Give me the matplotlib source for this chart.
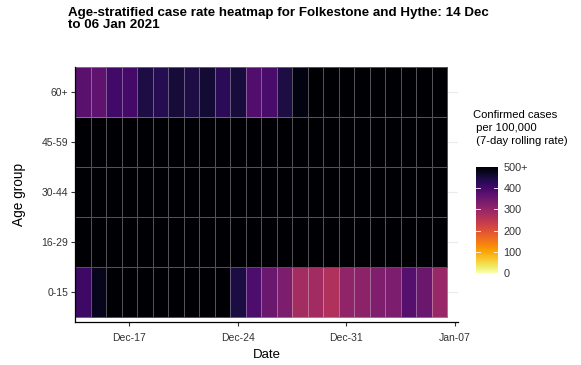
import numpy as np
import matplotlib
matplotlib.use('Agg')
import matplotlib.pyplot as plt
import matplotlib.dates as mdates
import pandas as pd

plt.rcParams['font.family'] = ['Liberation Sans', 'DejaVu Sans']

# ---------------- data ----------------
age_groups = ['0-15', '16-29', '30-44', '45-59', '60+']
start_date = '2020-12-14'
n_days = 24
dates = pd.date_range(start_date, periods=n_days, freq='D')

rate_0_15 = [405, 475, 520, 540, 560, 580, 600, 590, 570, 530, 445, 385,
             350, 330, 280, 282, 265, 305, 310, 325, 330, 375, 350, 295]
rate_16_29 = [560, 580, 610, 640, 660, 690, 700, 710, 690, 650, 620, 600,
              590, 600, 610, 620, 640, 650, 660, 640, 630, 610, 600, 590]
rate_30_44 = [600, 620, 650, 680, 700, 720, 740, 750, 730, 700, 670, 650,
              640, 650, 660, 670, 690, 700, 710, 690, 680, 660, 650, 640]
rate_45_59 = [580, 600, 630, 660, 680, 700, 720, 730, 710, 680, 650, 630,
              620, 630, 640, 650, 670, 680, 690, 670, 660, 640, 630, 620]
rate_60_plus = [370, 365, 400, 395, 440, 430, 450, 440, 455, 425, 448, 380,
                390, 440, 485, 520, 540, 560, 580, 600, 610, 590, 570, 550]

cbar_ticks = [0, 100, 200, 300, 400, 500]
cbar_labels = ['0', '100', '200', '300', '400', '500+']
x_tick_dates = ['2020-12-17', '2020-12-24', '2020-12-31', '2021-01-07']

title = 'Age-stratified case rate heatmap for Folkestone and Hythe: 14 Dec\nto 06 Jan 2021'
legend_title = 'Confirmed cases\n per 100,000\n (7-day rolling rate)'

# ---------------- figure ----------------
W, H = 581, 365
fig = plt.figure(figsize=(W / 100, H / 100), dpi=100)

def fx(px):
    return px / W

def fy(py):
    return 1 - py / H

ax_l, ax_r, ax_t, ax_b = 75, 458, 67, 322
ax = fig.add_axes([fx(ax_l), fy(ax_b), fx(ax_r - ax_l), (ax_b - ax_t) / H])

Z = np.array([rate_0_15, rate_16_29, rate_30_44, rate_45_59, rate_60_plus], dtype=float)
xnum = mdates.date2num(dates)
xedges = np.append(xnum - 0.5, xnum[-1] + 0.5)
yedges = np.arange(len(age_groups) + 1) - 0.5

cmap = plt.get_cmap('inferno_r')
ax.pcolormesh(xedges, yedges, np.clip(Z, 0, 500), cmap=cmap, vmin=0, vmax=500,
              edgecolors=(1, 1, 1, 0.33), linewidth=0.7, zorder=2)

ax.set_xlim(xnum[0] - 0.5, mdates.date2num(pd.Timestamp('2021-01-07')) + 0.2)
ax.set_ylim(-0.6, 4.5)

ax.set_yticks(range(len(age_groups)))
ax.set_yticklabels(age_groups)
ax.set_xticks(mdates.date2num(pd.to_datetime(x_tick_dates)))
ax.xaxis.set_major_formatter(mdates.DateFormatter('%b-%d'))

ax.grid(axis='y', color='#ebebeb', linewidth=0.8, zorder=0)
ax.set_axisbelow(True)

for s in ['top', 'right']:
    ax.spines[s].set_visible(False)
for s in ['left', 'bottom']:
    ax.spines[s].set_color('black')
    ax.spines[s].set_linewidth(0.9)

ax.tick_params(axis='both', length=3, width=0.8, color='#333333',
               labelsize=7.5, labelcolor='#333333', pad=2)
ax.tick_params(axis='x', pad=5)
ax.set_xlabel('Date', fontsize=9.5, labelpad=4)
ax.set_ylabel('Age group', fontsize=9.8, labelpad=11)

fig.text(fx(68), fy(7), title, ha='left', va='top', fontsize=9.6,
         fontweight='bold', linespacing=1.05)

# ---------------- colour bar ----------------
cb_l, cb_r, cb_t, cb_b = 476, 498, 167, 273
cax = fig.add_axes([fx(cb_l), fy(cb_b), fx(cb_r - cb_l), (cb_b - cb_t) / H])
grad = np.linspace(0, 500, 256).reshape(-1, 1)
cax.imshow(grad, cmap=cmap, vmin=0, vmax=500, aspect='auto', origin='lower',
           extent=[0, 1, 0, 500])
cax.set_xlim(0, 1)
cax.set_ylim(0, 500)
cax.set_xticks([])
cax.yaxis.tick_right()
cax.set_yticks(cbar_ticks)
cax.set_yticklabels(cbar_labels)
cax.tick_params(axis='y', length=0, labelsize=7.8, labelcolor='#333333', pad=4)
for s in cax.spines.values():
    s.set_visible(False)
for t in cbar_ticks[1:-1]:
    cax.plot([0, 0.2], [t, t], color='white', lw=0.6)
    cax.plot([0.8, 1], [t, t], color='white', lw=0.6)

fig.text(fx(473), fy(110), legend_title, ha='left', va='top', fontsize=8.1,
         linespacing=1.35, color='black')

fig.savefig('out.png', dpi=100)
